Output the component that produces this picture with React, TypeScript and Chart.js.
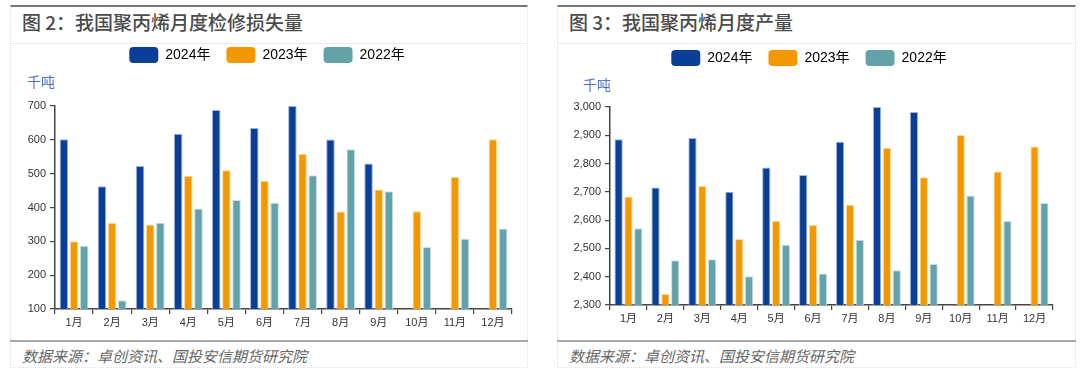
import React, { useEffect, useRef } from "react";
import { Chart, registerables } from "chart.js";
Chart.register(...registerables);

const months = ["1月", "2月", "3月", "4月", "5月", "6月", "7月", "8月", "9月", "10月", "11月", "12月"];
const seriesNames = ["2024年", "2023年", "2022年"];
const seriesColors = ["#0a3f98", "#f39800", "#63a2a9"];
const seriesEdges = ["#9db4dd", "#fcd9a0", "#c5dfe2"];

const loss2024 = [602, 463, 523, 618, 688, 635, 700, 601, 530, null, null, null];
const loss2023 = [300, 355, 350, 494, 510, 479, 559, 388, 453, 389, 490, 602];
const loss2022 = [287, 126, 355, 397, 422, 414, 495, 572, 448, 283, 308, 338];

const output2024 = [2886, 2715, 2890, 2700, 2786, 2760, 2877, 3000, 2982, null, null, null];
const output2023 = [2684, 2339, 2721, 2533, 2597, 2583, 2654, 2856, 2752, 2901, 2772, 2860];
const output2022 = [2571, 2458, 2462, 2402, 2512, 2411, 2531, 2423, 2445, 2687, 2597, 2661];

const lossAxis = { min: 100, max: 700, step: 100 };
const outputAxis = { min: 2300, max: 3000, step: 100 };

const unitLabel = "千吨";
const titleLeft = "图 2：我国聚丙烯月度检修损失量";
const titleRight = "图 3：我国聚丙烯月度产量";
const sourceText = "数据来源：卓创资讯、国投安信期货研究院";

const FONT = "'Liberation Sans', 'Noto Sans CJK SC', sans-serif";
const CJK = "'Noto Sans CJK SC', 'Liberation Sans', sans-serif";

type PanelProps = {
  left: number;
  width: number;
  title: string;
  series: (number | null)[][];
  axis: { min: number; max: number; step: number };
  canvasTop: number;
  padLeft: number;
  padRight: number;
  padBottom: number;
  unitPadBottom: number;
  unitShift: number;
  yWidth: number;
};

function ChartPanel(p: PanelProps) {
  const ref = useRef<HTMLCanvasElement | null>(null);
  useEffect(() => {
    if (!ref.current) return;
    const shiftUnit = {
      id: "shiftUnit",
      afterLayout(chart: any) {
        const t = chart.titleBlock;
        if (t) {
          t.left += p.unitShift;
          t.right += p.unitShift;
        }
      },
    };
    const chart = new Chart(ref.current, {
      type: "bar",
      data: {
        labels: months,
        datasets: p.series.map((vals, i) => ({
          label: seriesNames[i],
          data: vals,
          backgroundColor: seriesColors[i],
          borderColor: seriesEdges[i],
          borderWidth: 1,
          barPercentage: 0.84,
          categoryPercentage: 0.8,
        })),
      },
      plugins: [shiftUnit],
      options: {
        animation: false,
        responsive: false,
        maintainAspectRatio: false,
        layout: { padding: { left: p.padLeft, right: p.padRight, top: 0, bottom: p.padBottom } },
        plugins: {
          tooltip: { enabled: false },
          legend: {
            display: true,
            position: "top",
            labels: {
              boxWidth: 29,
              boxHeight: 16,
              padding: 16,
              useBorderRadius: true,
              borderRadius: 4,
              color: "#333",
              font: { size: 14, family: FONT },
              generateLabels: (c: any) =>
                c.data.datasets.map((d: any, i: number) => ({
                  text: d.label,
                  fillStyle: seriesColors[i],
                  strokeStyle: seriesColors[i],
                  lineWidth: 0,
                  borderRadius: 4,
                  datasetIndex: i,
                  hidden: false,
                })),
            },
          },
          title: {
            display: true,
            text: unitLabel,
            align: "start",
            position: "top",
            weight: 500,
            color: "#4a72c8",
            font: { size: 14, family: CJK, weight: "normal" },
            padding: { top: 0, bottom: p.unitPadBottom },
          } as any,
        },
        scales: {
          x: {
            offset: true,
            grid: { display: true, drawOnChartArea: false, drawTicks: true, tickLength: 5, color: "#444", lineWidth: 1.2, offset: true },
            border: { display: true, color: "#444", width: 1.5 },
            ticks: { color: "#333", font: { size: 11, family: FONT }, padding: 2, maxRotation: 0 },
          },
          y: {
            min: p.axis.min,
            max: p.axis.max,
            grid: { display: true, drawOnChartArea: false, drawTicks: true, tickLength: 5, color: "#444", lineWidth: 1.2 },
            border: { display: true, color: "#444", width: 1.5 },
            ticks: {
              stepSize: p.axis.step,
              color: "#333",
              padding: 4,
              font: { size: 11, family: FONT },
              callback: (v: any) => Number(v).toLocaleString("en-US"),
            },
            afterFit: (scale: any) => {
              scale.width = p.yWidth;
            },
          },
        },
      },
    });
    return () => chart.destroy();
  }, []);

  const canvasHeight = 340 - p.canvasTop;
  return (
    <>
      <div
        style={{
          position: "absolute",
          left: p.left,
          top: 5,
          width: p.width,
          height: 363,
          borderTop: "2px solid #777",
          borderLeft: "1px dotted #ddd",
          borderRight: "1px dotted #ddd",
          borderBottom: "1px dotted #e2e2e2",
          boxSizing: "border-box",
        }}
      />
      <div
        style={{
          position: "absolute",
          left: p.left,
          top: 43,
          width: p.width,
          height: 0,
          borderTop: "1px dotted #dcdcdc",
        }}
      />
      <div
        style={{
          position: "absolute",
          left: p.left,
          top: 340,
          width: p.width,
          height: 0,
          borderTop: "2px solid #a8a8a8",
        }}
      />
      <div
        style={{
          position: "absolute",
          left: p.left + 12,
          top: 9,
          fontFamily: CJK,
          fontSize: 19,
          color: "#4b4b4b",
          fontWeight: 500,
          whiteSpace: "nowrap",
          lineHeight: "26px",
        }}
      >
        {p.title}
      </div>
      <div
        style={{
          position: "absolute",
          left: p.left + 12,
          top: 345,
          fontFamily: CJK,
          fontSize: 15,
          fontStyle: "italic",
          color: "#666",
          whiteSpace: "nowrap",
          lineHeight: "22px",
        }}
      >
        {sourceText}
      </div>
      <canvas
        ref={ref}
        width={p.width}
        height={canvasHeight}
        style={{ position: "absolute", left: p.left, top: p.canvasTop, width: p.width, height: canvasHeight }}
      />
    </>
  );
}

export default function App() {
  return (
    <div style={{ position: "absolute", left: 0, top: 0, width: 1080, height: 370, background: "#fff", overflow: "hidden" }}>
      <ChartPanel
        left={10}
        width={518}
        title={titleLeft}
        series={[loss2024, loss2023, loss2022]}
        axis={lossAxis}
        canvasTop={31}
        padLeft={12}
        padRight={16}
        padBottom={8.8}
        unitPadBottom={16.2}
        unitShift={5}
        yWidth={33}
      />
      <ChartPanel
        left={557}
        width={519}
        title={titleRight}
        series={[output2024, output2023, output2022]}
        axis={outputAxis}
        canvasTop={34}
        padLeft={8}
        padRight={23}
        padBottom={12.8}
        unitPadBottom={14.2}
        unitShift={18}
        yWidth={45}
      />
    </div>
  );
}
